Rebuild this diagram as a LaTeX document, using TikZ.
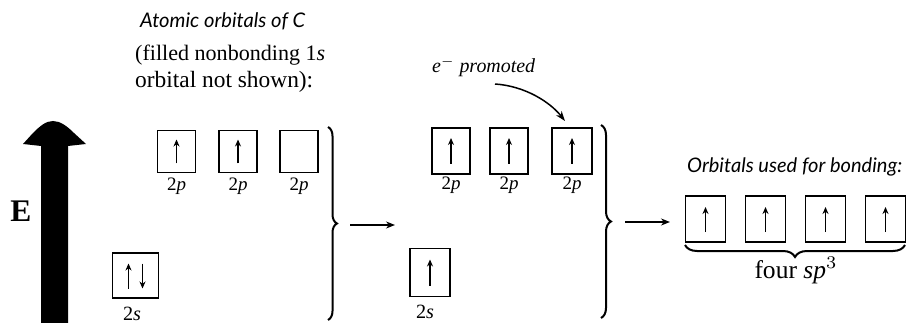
\documentclass[tikz,border=0pt]{standalone}
\usepackage{fontspec}
\setmainfont{Liberation Serif}
\newfontfamily\headfont{Lato}
\usetikzlibrary{arrows.meta,decorations.pathreplacing,calc}

% text set to a given width
\newcommand{\wtext}[2]{\resizebox{#1}{!}{#2}}

\begin{document}
\begin{tikzpicture}[x=1pt,y=-1pt,
  orb/.style={draw, line width=1.7pt, minimum width=38pt, minimum height=42pt, inner sep=0pt},
  spin/.style={line width=1.5pt, -{Stealth[length=7pt,width=6pt]}},
  txt/.style={inner sep=0pt, anchor=base},
  flow/.style={line width=1.6pt, -{Stealth[length=9pt,width=7pt]}},
  bracket/.style={line width=2pt, decorate, decoration={brace, amplitude=#1}},
  bracket/.default=9pt
]
\useasboundingbox (0,0) rectangle (912,323);

% energy axis
\fill (41,323) -- (41,146) -- (23,144) -- (33,133)
  .. controls (40,126) and (46,121) .. (53,121)
  .. controls (60,121) and (67,126) .. (74,133)
  -- (86,144) -- (68,146) -- (68,323) -- cycle;
\node[txt, font=\bfseries] (E) at (21,222) {\wtext{21pt}{E}};

% headings
\node[txt, anchor=base west, font=\headfont\itshape] (hatomic) at (140,28)
  {\wtext{165pt}{Atomic orbitals of C}};
\node[txt, anchor=base west] (hnote1) at (135,61)
  {\wtext{190pt}{(filled nonbonding 1\textit{s}}};
\node[txt, anchor=base west] (hnote2) at (135,88)
  {\wtext{178pt}{orbital not shown):}};

% ground state
\node[orb] (p1) at (176.5,151.5) {};
\node[orb] (p2) at (238,151.5) {};
\node[orb] (p3) at (299,151.5) {};
\node[orb, minimum width=46pt, minimum height=45pt] (s1) at (135.5,275.5) {};
\foreach \b in {p1,p2,p3}
  \node[txt] at ($(\b.south)+(0,17)$) {\wtext{19pt}{2\textit{p}}};
\node[txt] (s1l) at (132,320) {\wtext{18pt}{2\textit{s}}};
\draw[spin] ($(s1.center)+(-7,13)$) -- ($(s1.center)+(-7,-12)$);
\draw[spin] ($(s1.center)+(7,-12)$) -- ($(s1.center)+(7,13)$);
\foreach \b in {p1,p2}
  \draw[spin] ($(\b.center)+(0,12)$) -- ($(\b.center)+(0,-12)$);

\draw[bracket] (328,127) -- (328,320);
\coordinate (f1a) at (350,225);
\coordinate (f1b) at (395,225);
\draw[flow] (f1a) -- (f1b);

% promoted state
\node[orb, minimum height=46pt] (q1) at (451,151) {};
\node[orb, minimum height=46pt] (q2) at (509,151) {};
\node[orb, minimum height=46pt, minimum width=40pt] (q3) at (572,151) {};
\node[orb, minimum width=40pt, minimum height=48pt] (s2) at (430,272.5) {};
\foreach \b in {q1,q2,q3}
  \node[txt] at ($(\b.south)+(0,15)$) {\wtext{19pt}{2\textit{p}}};
\node[txt] (s2l) at (425,318) {\wtext{18pt}{2\textit{s}}};
\foreach \b in {q1,q2,q3,s2}
  \draw[spin] ($(\b.center)+(0,13)$) -- ($(\b.center)+(0,-13)$);

\node[txt, anchor=base west, font=\itshape] (promo) at (432,73)
  {\wtext{103pt}{\textit{e}$^{-}$ promoted}};
\coordinate (pa) at (495,84);
\coordinate (pb) at (565,121);
\draw[line width=1.5pt, -{Stealth[length=10pt,width=7pt]}]
  (pa) .. controls (525,86) and (550,102) .. (pb);

\draw[bracket=10pt] (601,125) -- (601,318);
\coordinate (f2a) at (625,222);
\coordinate (f2b) at (670,222);
\draw[flow] (f2a) -- (f2b);

% hybrid orbitals
\node[txt, anchor=base west, font=\headfont\itshape] (hbond) at (687,172)
  {\wtext{215pt}{Orbitals used for bonding:}};
\foreach \i/\x in {1/705.5,2/765.5,3/825.5,4/885.5} {
  \node[orb, minimum width=40pt, minimum height=46pt] (h\i) at (\x,219) {};
  \draw[spin] ($(h\i.center)+(0,13)$) -- ($(h\i.center)+(0,-12)$);
}
\draw[bracket=12pt, decoration={mirror}] (685,245) -- (905,245);
\node[txt] (four) at (796,278) {\wtext{83pt}{four \textit{sp}$^3$}};
\end{tikzpicture}
\end{document}
